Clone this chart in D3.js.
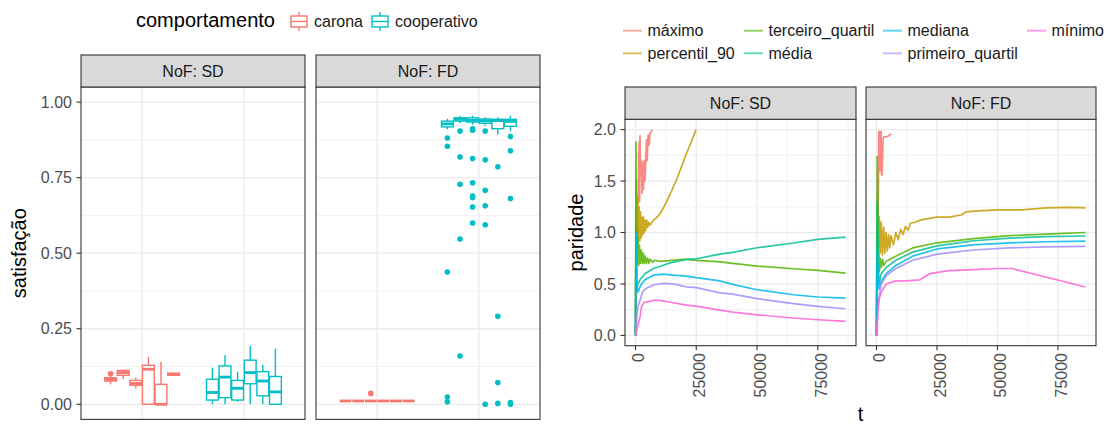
<!DOCTYPE html>
<html>
<head>
<meta charset="utf-8">
<script src="https://cdn.jsdelivr.net/npm/d3@7"></script>
<style>
  body { margin: 0; background: #fff; }
  svg { font-family: "Liberation Sans", Arial, sans-serif; }
</style>
</head>
<body>
<script>
// ---------------- data: satisfação boxplots (6 runs per behaviour) ----------------
// each box: [lower whisker, q1, median, q3, upper whisker]
const behaviours = ["carona", "cooperativo"];
const behaviourColors = ["#F8766D", "#00BFC4"];
const nofLevels = ["SD", "FD"];

const sdCarona = [
  [0.066, 0.077, 0.083, 0.088, 0.092],
  [0.083, 0.096, 0.105, 0.112, 0.114],
  [0.052, 0.063, 0.069, 0.079, 0.088],
  [0.000, 0.000, 0.116, 0.129, 0.157],
  [0.000, 0.000, 0.000, 0.066, 0.140],
  [0.094, 0.096, 0.099, 0.103, 0.106]
];
const sdCooperativo = [
  [0.000, 0.014, 0.039, 0.083, 0.121],
  [0.000, 0.022, 0.090, 0.127, 0.163],
  [0.008, 0.014, 0.053, 0.079, 0.108],
  [0.000, 0.068, 0.105, 0.146, 0.193],
  [0.000, 0.028, 0.077, 0.108, 0.130],
  [0.000, 0.000, 0.041, 0.092, 0.184]
];
const fdCarona = [
  [0.011, 0.011, 0.011, 0.011, 0.011],
  [0.011, 0.011, 0.011, 0.011, 0.011],
  [0.011, 0.011, 0.011, 0.011, 0.011],
  [0.011, 0.011, 0.011, 0.011, 0.011],
  [0.011, 0.011, 0.011, 0.011, 0.011],
  [0.011, 0.011, 0.011, 0.011, 0.011]
];
const fdCooperativo = [
  [0.910, 0.918, 0.928, 0.937, 0.945],
  [0.930, 0.937, 0.943, 0.948, 0.954],
  [0.925, 0.934, 0.940, 0.948, 0.955],
  [0.922, 0.930, 0.938, 0.944, 0.950],
  [0.893, 0.912, 0.939, 0.943, 0.950],
  [0.904, 0.920, 0.936, 0.943, 0.955]
];
// outliers per run
const sdCaronaOut = [[0.101], [], [], [], [], []];
const sdCooperativoOut = [[], [], [], [], [], []];
const fdCaronaOut = [[], [], [0.036], [], [], []];
const fdCooperativoOut = [
  [0.881, 0.854, 0.438, 0.024, 0.008],
  [0.904, 0.818, 0.728, 0.547, 0.160],
  [0.912, 0.907, 0.813, 0.733, 0.689, 0.684, 0.653, 0.600],
  [0.904, 0.809, 0.708, 0.657, 0.594, 0.000],
  [0.786, 0.291, 0.072, 0.003],
  [0.886, 0.839, 0.681, 0.006, 0.000]
];
const satTicks = [0, 0.25, 0.5, 0.75, 1];

// ---------------- data: paridade over t ----------------
const seriesNames = ["máximo", "percentil_90", "terceiro_quartil", "média", "mediana", "primeiro_quartil", "mínimo"];
const seriesColors = ["#F8766D", "#C49A00", "#53B400", "#00C094", "#00B6EB", "#A58AFF", "#FB61D7"];
const tTicks = [0, 25000, 50000, 75000];
const parTicks = [0, 0.5, 1, 1.5, 2];

// NoF: SD  ([t, paridade])
const sdMaximo = [[0,0],[1200,1.5],[1500,1.88],[1700,1.3],[1850,1.94],[2100,1.55],[2400,1.7],[2700,1.38],[3000,1.68],[3300,1.42],[3600,1.7],[3900,1.5],[4200,1.68],[4500,1.9],[4800,1.7],[5200,1.95],[5600,1.85],[6000,1.97],[6500,1.98],[6900,2.0]];
const sdP90 = [[0,0],[300,1.52],[600,0.95],[900,1.35],[1200,0.9],[1500,1.25],[1800,0.92],[2100,1.2],[2400,0.95],[2700,1.15],[3000,0.98],[3300,1.15],[3600,1.0],[3900,1.12],[4200,1.02],[4600,1.12],[5000,1.05],[5500,1.1],[6000,1.07],[7300,1.12],[8500,1.14],[10000,1.18],[11500,1.24],[12800,1.3],[14200,1.37],[15500,1.44],[17000,1.52],[18300,1.6],[19600,1.68],[21000,1.77],[22400,1.85],[23800,1.93],[24900,2.0]];
const sdQ3 = [[0,0],[200,1.88],[400,0.9],[600,1.05],[800,0.7],[1000,0.95],[1300,0.68],[1600,0.88],[2000,0.7],[2400,0.83],[2800,0.7],[3200,0.8],[3600,0.7],[4000,0.77],[4500,0.7],[5000,0.75],[5500,0.7],[6000,0.74],[7000,0.71],[8000,0.73],[10000,0.72],[15000,0.73],[20000,0.74],[25000,0.73],[35000,0.715],[40000,0.7],[50000,0.674],[65000,0.648],[75000,0.632],[86400,0.606]];
const sdMedia = [[0,0],[200,1.0],[500,0.45],[1000,0.5],[1850,0.54],[3900,0.6],[7300,0.65],[10000,0.67],[14200,0.705],[21000,0.738],[25000,0.745],[34700,0.79],[40000,0.807],[50000,0.852],[65000,0.898],[75000,0.934],[86400,0.956]];
const sdMediana = [[0,0],[200,1.0],[500,0.5],[1000,0.42],[1850,0.47],[2500,0.5],[3900,0.54],[7300,0.585],[11400,0.595],[15500,0.585],[21000,0.576],[25000,0.561],[34700,0.53],[40000,0.496],[50000,0.444],[65000,0.395],[75000,0.373],[86400,0.363]];
const sdQ1 = [[0,0],[600,0.2],[1000,0.28],[1850,0.34],[2900,0.42],[4300,0.456],[7300,0.49],[11400,0.505],[15500,0.5],[21000,0.472],[25000,0.464],[34700,0.414],[40000,0.402],[50000,0.357],[65000,0.308],[75000,0.282],[86400,0.259]];
const sdMinimo = [[0,0],[1200,0.12],[1850,0.18],[2500,0.28],[3500,0.32],[6000,0.33],[7300,0.34],[10000,0.34],[15000,0.32],[21000,0.294],[25000,0.285],[34700,0.246],[40000,0.227],[50000,0.2],[65000,0.169],[75000,0.152],[86400,0.136]];

// NoF: FD
const fdMaximo = [[0,0],[880,1.56],[950,1.98],[1500,1.98],[1600,1.6],[1700,1.98],[1900,1.98],[2100,1.56],[2400,1.56],[2700,1.9],[3000,1.93],[4300,1.93],[5000,1.94],[6100,1.96]];
const fdP90 = [[0,0],[400,1.27],[800,0.85],[1200,1.15],[1600,0.8],[2000,1.1],[2500,0.78],[3000,1.05],[3500,0.8],[4000,1.0],[4500,0.82],[5000,0.98],[5500,0.85],[6000,0.97],[7000,0.88],[8000,1.0],[9000,0.93],[10000,1.03],[11000,0.98],[12000,1.06],[13000,1.02],[14000,1.09],[16000,1.1],[18000,1.12],[20000,1.13],[25000,1.15],[30000,1.15],[35000,1.17],[37000,1.2],[42000,1.21],[50000,1.22],[60000,1.22],[70000,1.24],[80000,1.245],[86400,1.24]];
const fdQ3 = [[0,0],[300,1.74],[800,0.9],[1200,0.62],[1600,0.75],[2000,0.66],[2500,0.74],[3000,0.68],[4000,0.72],[8000,0.77],[15000,0.85],[25000,0.9],[40000,0.94],[55000,0.97],[70000,0.985],[86400,1.0]];
const fdMedia = [[0,0],[300,1.3],[1000,0.5],[2000,0.6],[4000,0.66],[8000,0.73],[15000,0.81],[25000,0.87],[40000,0.92],[55000,0.945],[70000,0.96],[86400,0.966]];
const fdMediana = [[0,0],[300,0.8],[1000,0.45],[2000,0.53],[4000,0.6],[8000,0.68],[15000,0.77],[25000,0.84],[40000,0.88],[55000,0.9],[70000,0.91],[86400,0.917]];
const fdQ1 = [[0,0],[500,0.2],[1000,0.35],[2000,0.5],[4000,0.58],[8000,0.65],[15000,0.73],[25000,0.79],[40000,0.83],[55000,0.85],[70000,0.86],[86400,0.865]];
const fdMinimo = [[0,0],[500,0.2],[1000,0.35],[2000,0.42],[4000,0.5],[8000,0.53],[12000,0.53],[18000,0.54],[22000,0.6],[30000,0.63],[40000,0.64],[50000,0.65],[56000,0.65],[86400,0.47]];

const sdSeries = [sdMaximo, sdP90, sdQ3, sdMedia, sdMediana, sdQ1, sdMinimo];
const fdSeries = [fdMaximo, fdP90, fdQ3, fdMedia, fdMediana, fdQ1, fdMinimo];

// ---------------- look ----------------
const GRID = "#ebebeb", BORDER = "#333333", STRIP_BG = "#d9d9d9", TICK_TXT = "#4d4d4d";

const svg = d3.select("body").append("svg")
  .attr("width", 1111)
  .attr("height", 426);
svg.append("rect").attr("width", 1111).attr("height", 426).attr("fill", "#fff");

function drawStrip(x, y, w, h, label) {
  svg.append("rect")
    .attr("x", x).attr("y", y).attr("width", w).attr("height", h)
    .attr("fill", STRIP_BG).attr("stroke", BORDER).attr("stroke-width", 1.1);
  svg.append("text")
    .attr("x", x + w / 2).attr("y", y + h / 2 + 5.6)
    .attr("text-anchor", "middle").attr("font-size", 16).attr("fill", "#1a1a1a")
    .text(label);
}

// ================= left plot: satisfação =================
const boxTop = 87, boxBottom = 419.4;
const boxPanels = [{ x: 81, w: 224 }, { x: 316, w: 224 }];
const ySat = d3.scaleLinear().domain([-0.05, 1.05]).range([boxBottom, boxTop]);
const boxData = {
  SD: [[sdCarona, sdCaronaOut], [sdCooperativo, sdCooperativoOut]],
  FD: [[fdCarona, fdCaronaOut], [fdCooperativo, fdCooperativoOut]]
};

boxPanels.forEach((p, pi) => {
  const nof = nofLevels[pi];
  const xCat = d3.scaleLinear().domain([0.4, 2.6]).range([p.x, p.x + p.w]);
  const xSub = d3.scaleBand().domain(d3.range(6)).range([-0.375, 0.375]).padding(0.06);
  const g = svg.append("g");

  // grid
  const minor = d3.range(0.125, 1.0, 0.25);
  g.selectAll(".minor").data(minor).join("line")
    .attr("x1", p.x).attr("x2", p.x + p.w)
    .attr("y1", d => ySat(d)).attr("y2", d => ySat(d))
    .attr("stroke", GRID).attr("stroke-width", 0.7);
  g.selectAll(".major").data(satTicks).join("line")
    .attr("x1", p.x).attr("x2", p.x + p.w)
    .attr("y1", d => ySat(d)).attr("y2", d => ySat(d))
    .attr("stroke", GRID).attr("stroke-width", 1.3);
  g.selectAll(".vmajor").data([1, 2]).join("line")
    .attr("x1", d => xCat(d)).attr("x2", d => xCat(d))
    .attr("y1", boxTop).attr("y2", boxBottom)
    .attr("stroke", GRID).attr("stroke-width", 1.3);

  boxData[nof].forEach(([boxes, outs], bi) => {
    const col = behaviourColors[bi];
    boxes.forEach((b, j) => {
      const x0 = xCat(bi + 1 + xSub(j)), x1 = xCat(bi + 1 + xSub(j) + xSub.bandwidth());
      const cx = (x0 + x1) / 2;
      g.append("line").attr("x1", cx).attr("x2", cx)
        .attr("y1", ySat(b[0])).attr("y2", ySat(b[1]))
        .attr("stroke", col).attr("stroke-width", 1.4);
      g.append("line").attr("x1", cx).attr("x2", cx)
        .attr("y1", ySat(b[3])).attr("y2", ySat(b[4]))
        .attr("stroke", col).attr("stroke-width", 1.4);
      g.append("rect")
        .attr("x", x0).attr("width", x1 - x0)
        .attr("y", ySat(b[3])).attr("height", ySat(b[1]) - ySat(b[3]))
        .attr("fill", "#fff").attr("stroke", col).attr("stroke-width", 1.4);
      g.append("line").attr("x1", x0).attr("x2", x1)
        .attr("y1", ySat(b[2])).attr("y2", ySat(b[2]))
        .attr("stroke", col).attr("stroke-width", 2.8);
      g.selectAll(null).data(outs[j]).join("circle")
        .attr("cx", cx).attr("cy", d => ySat(d)).attr("r", 2.8)
        .attr("fill", col);
    });
  });

  g.append("rect").attr("x", p.x).attr("y", boxTop).attr("width", p.w).attr("height", boxBottom - boxTop)
    .attr("fill", "none").attr("stroke", BORDER).attr("stroke-width", 1.1);
  drawStrip(p.x, 55, p.w, 32, "NoF: " + nof);
});

// left y axis
svg.selectAll(".satTick").data(satTicks).join("line")
  .attr("x1", 76.5).attr("x2", 81)
  .attr("y1", d => ySat(d)).attr("y2", d => ySat(d))
  .attr("stroke", BORDER).attr("stroke-width", 1.1);
svg.selectAll(".satLab").data(satTicks).join("text")
  .attr("x", 72).attr("y", d => ySat(d) + 5.7)
  .attr("text-anchor", "end").attr("font-size", 16).attr("fill", TICK_TXT)
  .text(d3.format(".2f"));
svg.append("text")
  .attr("transform", `translate(25.5,${(boxTop + boxBottom) / 2}) rotate(-90)`)
  .attr("text-anchor", "middle").attr("font-size", 20)
  .text("satisfação");

// left legend
svg.append("text").attr("x", 136).attr("y", 27).attr("font-size", 20).text("comportamento");
const legBoxX = [289, 370];
behaviours.forEach((b, i) => {
  const kx = legBoxX[i], col = behaviourColors[i];
  const k = svg.append("g").attr("stroke", col).attr("stroke-width", 1.4).attr("fill", "none");
  k.append("line").attr("x1", kx + 10).attr("x2", kx + 10).attr("y1", 12).attr("y2", 31);
  k.append("rect").attr("x", kx + 2).attr("y", 16).attr("width", 16).attr("height", 11).attr("fill", "#fff");
  k.append("line").attr("x1", kx + 2).attr("x2", kx + 18).attr("y1", 21.5).attr("y2", 21.5);
  svg.append("text").attr("x", kx + 25).attr("y", 27).attr("font-size", 16).attr("fill", "#1a1a1a").text(b);
});

// ================= right plot: paridade =================
const lineTop = 119.3, lineBottom = 345.7;
const linePanels = [{ x: 625, w: 231 }, { x: 866, w: 230 }];
const yPar = d3.scaleLinear().domain([-0.1, 2.1]).range([lineBottom, lineTop]);

linePanels.forEach((p, pi) => {
  const series = pi === 0 ? sdSeries : fdSeries;
  const xT = d3.scaleLinear().domain([-4320, 90720]).range([p.x, p.x + p.w]);
  const g = svg.append("g");

  const yMinor = [0.25, 0.75, 1.25, 1.75];
  const xMinor = [12500, 37500, 62500, 87500];
  g.selectAll(".ym").data(yMinor).join("line")
    .attr("x1", p.x).attr("x2", p.x + p.w).attr("y1", d => yPar(d)).attr("y2", d => yPar(d))
    .attr("stroke", GRID).attr("stroke-width", 0.7);
  g.selectAll(".xm").data(xMinor).join("line")
    .attr("x1", d => xT(d)).attr("x2", d => xT(d)).attr("y1", lineTop).attr("y2", lineBottom)
    .attr("stroke", GRID).attr("stroke-width", 0.7);
  g.selectAll(".yM").data(parTicks).join("line")
    .attr("x1", p.x).attr("x2", p.x + p.w).attr("y1", d => yPar(d)).attr("y2", d => yPar(d))
    .attr("stroke", GRID).attr("stroke-width", 1.3);
  g.selectAll(".xM").data(tTicks).join("line")
    .attr("x1", d => xT(d)).attr("x2", d => xT(d)).attr("y1", lineTop).attr("y2", lineBottom)
    .attr("stroke", GRID).attr("stroke-width", 1.3);

  const line = d3.line().x(d => xT(d[0])).y(d => yPar(d[1]));
  g.selectAll(".series").data(series).join("path")
    .attr("d", line)
    .attr("fill", "none")
    .attr("stroke", (d, i) => seriesColors[i])
    .attr("stroke-width", 1.7)
    .attr("stroke-opacity", 0.85)
    .attr("stroke-linejoin", "round");

  g.append("rect").attr("x", p.x).attr("y", lineTop).attr("width", p.w).attr("height", lineBottom - lineTop)
    .attr("fill", "none").attr("stroke", BORDER).attr("stroke-width", 1.1);
  drawStrip(p.x, 87, p.w, lineTop - 87, "NoF: " + nofLevels[pi]);

  // x axis (rotated labels)
  g.selectAll(".xt").data(tTicks).join("line")
    .attr("x1", d => xT(d)).attr("x2", d => xT(d)).attr("y1", lineBottom).attr("y2", lineBottom + 4.5)
    .attr("stroke", BORDER).attr("stroke-width", 1.1);
  g.selectAll(".xl").data(tTicks).join("text")
    .attr("transform", d => `translate(${xT(d)},353) rotate(-90)`)
    .attr("dy", "0.55em")
    .attr("text-anchor", "end").attr("font-size", 16).attr("fill", TICK_TXT)
    .text(d => d);
});

// right y axis
svg.selectAll(".parTick").data(parTicks).join("line")
  .attr("x1", 620.5).attr("x2", 625)
  .attr("y1", d => yPar(d)).attr("y2", d => yPar(d))
  .attr("stroke", BORDER).attr("stroke-width", 1.1);
svg.selectAll(".parLab").data(parTicks).join("text")
  .attr("x", 616).attr("y", d => yPar(d) + 5.7)
  .attr("text-anchor", "end").attr("font-size", 16).attr("fill", TICK_TXT)
  .text(d3.format(".1f"));
svg.append("text")
  .attr("transform", `translate(583,${(lineTop + lineBottom) / 2}) rotate(-90)`)
  .attr("text-anchor", "middle").attr("font-size", 20)
  .text("paridade");
svg.append("text").attr("x", 860.5).attr("y", 421).attr("text-anchor", "middle").attr("font-size", 20).text("t");

// right legend, 2 rows filled column by column
const legColX = [623, 744, 883, 1027];
const legRowY = [30.7, 53.3];
seriesNames.forEach((name, i) => {
  const cx = legColX[Math.floor(i / 2)], cy = legRowY[i % 2];
  svg.append("line").attr("x1", cx).attr("x2", cx + 19).attr("y1", cy).attr("y2", cy)
    .attr("stroke", seriesColors[i]).attr("stroke-width", 2).attr("stroke-opacity", 0.6);
  svg.append("text").attr("x", cx + 24.5).attr("y", cy + 5.6)
    .attr("font-size", 16).attr("fill", "#1a1a1a").text(name);
});
</script>
</body>
</html>
